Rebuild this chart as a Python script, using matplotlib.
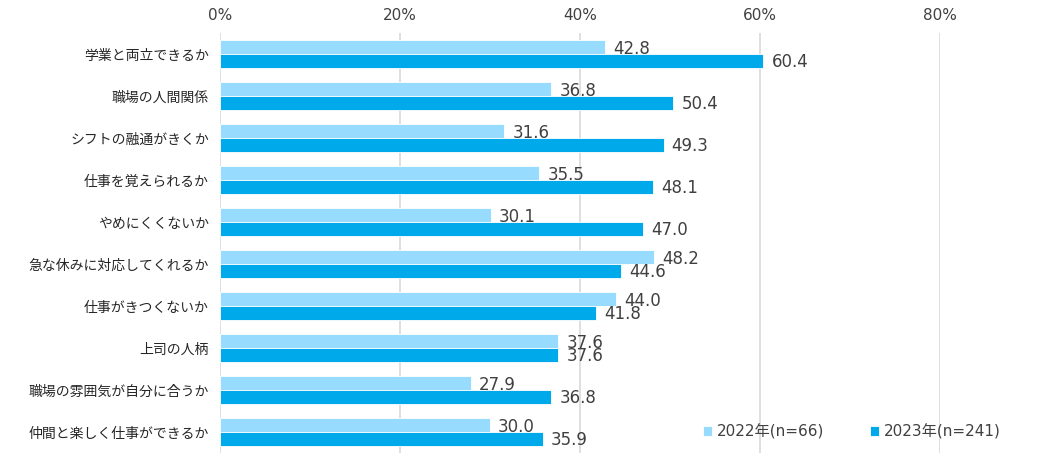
import matplotlib
matplotlib.use('Agg')
import matplotlib.pyplot as plt
import numpy as np

plt.rcParams['font.family'] = ['DejaVu Sans', 'Noto Sans CJK JP']

categories = ['学業と両立できるか', '職場の人間関係', 'シフトの融通がきくか', '仕事を覚えられるか',
              'やめにくくないか', '急な休みに対応してくれるか', '仕事がきつくないか', '上司の人柄',
              '職場の雰囲気が自分に合うか', '仲間と楽しく仕事ができるか']
vals_2022 = [42.8, 36.8, 31.6, 35.5, 30.1, 48.2, 44.0, 37.6, 27.9, 30.0]
vals_2023 = [60.4, 50.4, 49.3, 48.1, 47.0, 44.6, 41.8, 37.6, 36.8, 35.9]
series_names = ['2022年(n=66)', '2023年(n=241)']
xticks = [0, 20, 40, 60, 80]

c_light = '#97DBFE'
c_dark = '#00A9E9'

fig = plt.figure(figsize=(10.43, 4.72), dpi=100)
ax = fig.add_axes([0.211, 0.040, 0.690, 0.890])

y = np.arange(len(categories))
h = 0.34
ax.barh(y - h / 2, vals_2022, height=h, color=c_light, edgecolor='white', linewidth=0.6,
        label=series_names[0], zorder=3)
ax.barh(y + h / 2, vals_2023, height=h, color=c_dark, edgecolor='white', linewidth=0.6,
        label=series_names[1], zorder=5)

for i in range(len(categories)):
    ax.text(vals_2022[i] + 0.9, y[i] - h / 2 + 0.05, '%.1f' % vals_2022[i], va='center', ha='left',
            fontsize=12, color='#404040', zorder=4)
    ax.text(vals_2023[i] + 0.9, y[i] + h / 2 + 0.02, '%.1f' % vals_2023[i], va='center', ha='left',
            fontsize=12, color='#404040', zorder=6)

ax.set_xlim(0, 80)
ax.set_ylim(len(categories) - 0.5, -0.5)
ax.set_xticks(xticks)
ax.set_xticklabels(['%d%%' % t for t in xticks])
ax.xaxis.tick_top()
ax.tick_params(axis='x', length=0, pad=7, labelsize=11, labelcolor='#404040')
ax.set_yticks(y)
ax.set_yticklabels(categories, family=['Noto Sans CJK JP', 'DejaVu Sans'])
ax.tick_params(axis='y', length=0, pad=8, labelsize=10, labelcolor='#262626')
ax.grid(axis='x', color='#D9D9D9', linewidth=1.2, zorder=0)
for s in ax.spines.values():
    s.set_visible(False)

leg = ax.legend(loc='lower right', bbox_to_anchor=(1.104, 0.0), ncol=2, frameon=False,
                fontsize=11, handlelength=0.6, handleheight=0.6, handletextpad=0.3,
                columnspacing=3.0, labelcolor='#404040')

plt.savefig('out.png', dpi=100)
